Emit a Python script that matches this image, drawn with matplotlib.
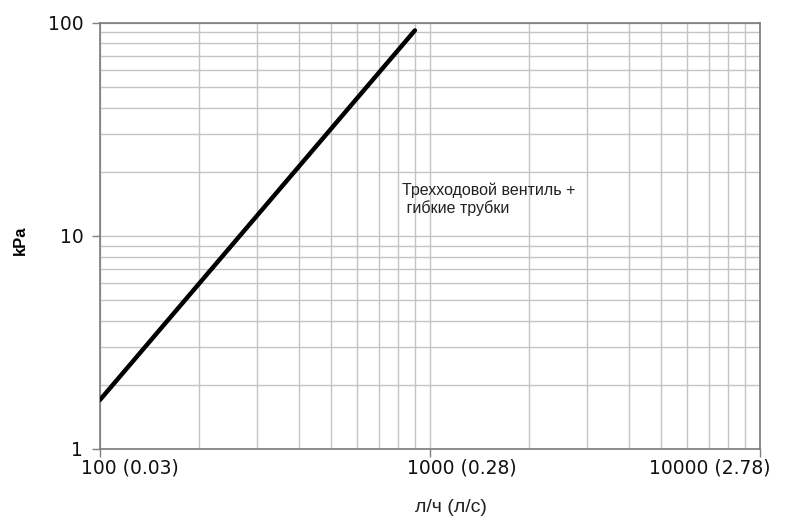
import numpy as np
import matplotlib
matplotlib.use('Agg')
import matplotlib.pyplot as plt
from matplotlib.ticker import LogLocator, NullFormatter, FixedLocator

plt.rcParams['font.family'] = ['Liberation Sans', 'DejaVu Sans']

# расход, л/ч  и  потеря давления, kPa
flow = [100, 900]
dp = [1.7, 92]

x_ticks = [100, 1000, 10000]
x_labels = ['100 (0.03)', '1000 (0.28)', '10000 (2.78)']
y_ticks = [1, 10, 100]
y_labels = ['1', '10', '100']

fig = plt.figure(figsize=(7.89, 5.19), dpi=100)
ax = fig.add_axes([100/789, 70/519, 660/789, 426.3/519])

ax.set_xscale('log')
ax.set_yscale('log')
ax.set_xlim(100, 10000)
ax.set_ylim(1, 100)

ax.plot(flow, dp, color='black', lw=3.2, solid_capstyle='round', zorder=3)

ax.xaxis.set_major_locator(FixedLocator(x_ticks))
ax.yaxis.set_major_locator(FixedLocator(y_ticks))
ax.xaxis.set_minor_locator(LogLocator(base=10, subs=np.arange(2, 10)))
ax.yaxis.set_minor_locator(LogLocator(base=10, subs=np.arange(2, 10)))
ax.xaxis.set_minor_formatter(NullFormatter())
ax.yaxis.set_minor_formatter(NullFormatter())
ax.set_yticklabels(y_labels, fontsize=13.5, family='DejaVu Sans', color='#111111')
ax.set_xticklabels([])
ax.tick_params(which='minor', length=0)
ax.tick_params(which='major', length=6, width=1, color='#808080', pad=6)

ax.grid(True, which='both', color='#c4c4c4', lw=1)
for s in ax.spines.values():
    s.set_color('#7a7a7a')
    s.set_linewidth(1.2)

# подписи оси x стоят не по центру делений
lbl_pos = [81/789, 407/789, 649/789]
for x, t in zip(lbl_pos, x_labels):
    fig.text(x, 1 - 468/519, t, fontsize=13.5, family='DejaVu Sans', color='#111111',
             ha='left', va='center')

ax.text(0.457, 0.625, 'Трехходовой вентиль +\n гибкие трубки', transform=ax.transAxes,
        fontsize=11.5, ha='left', va='top', linespacing=1.15, color='#222222')

fig.text(20/789, 1 - 240/519, 'kPa', rotation=90, fontsize=12, fontweight='bold',
         ha='center', va='center')
fig.text(451/789, 1 - 508/519, 'л/ч (л/с)', fontsize=14, ha='center', va='center',
         color='#222222')

fig.savefig('out.png', dpi=100)
